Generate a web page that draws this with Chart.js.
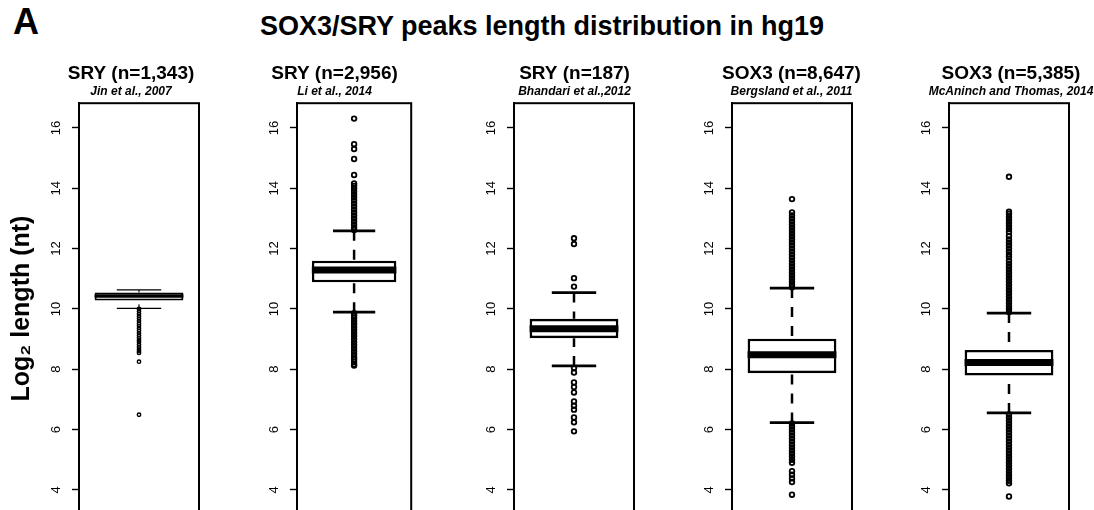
<!DOCTYPE html>
<html>
<head>
<meta charset="utf-8">
<script src="https://cdn.jsdelivr.net/npm/chart.js@4.4.1/dist/chart.umd.min.js"></script>
<style>
    html, body {margin: 0; width: 1094px; height: 510px; overflow: hidden; background: #fff;}
    body {position: relative; font-family: 'Liberation Sans', Arial, sans-serif; color: #000;}
    #letter {position: absolute; left: 13px; top: 4px; font-size: 36px; font-weight: bold; line-height: 1;}
    #heading {position: absolute; left: 542px; top: 13px; transform: translateX(-50%); font-size: 27px; font-weight: bold; line-height: 1; white-space: nowrap;}
    canvas {position: absolute; top: 0;}
</style>
</head>
<body>
<div id="letter">A</div>
<div id="heading">SOX3/SRY peaks length distribution in hg19</div>
<script>
const names = ['SRY (n=1,343)', 'SRY (n=2,956)', 'SRY (n=187)', 'SOX3 (n=8,647)', 'SOX3 (n=5,385)']
const sources = ['Jin et al., 2007', 'Li et al., 2014', 'Bhandari et al.,2012', 'Bergsland et al., 2011', 'McAninch and Thomas, 2014']
const yTicks = [4, 6, 8, 10, 12, 14, 16]

const whiskerLow = [10.02, 9.89, 8.11, 6.23, 6.55]
const q1 = [10.28, 10.88, 9.03, 7.87, 7.79]
const medians = [10.43, 11.29, 9.34, 8.48, 8.22]
const q3 = [10.54, 11.6, 9.67, 9.01, 8.64]
const whiskerHigh = [10.63, 12.59, 10.54, 10.69, 9.86]

const outJin = [10.0, 9.92, 9.84, 9.76, 9.68, 9.6, 9.52, 9.44, 9.36, 9.28, 9.2, 9.12, 9.04, 8.96, 8.9, 8.82,
    8.74, 8.66, 8.6, 8.54, 8.25, 6.49]
const outLi = [12.62, 12.7, 12.8, 12.9, 13.0, 13.1, 13.2, 13.3, 13.4, 13.5, 13.6, 13.7, 13.8, 13.9, 14.0, 14.08,
    14.16, 14.44, 14.97, 15.3, 15.46, 16.31,
    9.86, 9.78, 9.7, 9.6, 9.5, 9.4, 9.3, 9.2, 9.1, 9.0, 8.9, 8.8, 8.7, 8.6, 8.5, 8.4, 8.32, 8.24, 8.16, 8.12]
const outBhandari = [12.34, 12.15, 11.02, 10.74, 8.04, 7.89, 7.56, 7.41, 7.23, 6.93, 6.79, 6.66, 6.4, 6.24, 5.94]
const outBergsland = [10.72, 10.8, 10.9, 11.0, 11.1, 11.2, 11.3, 11.4, 11.5, 11.6, 11.7, 11.8, 11.9, 12.0, 12.1,
    12.2, 12.3, 12.4, 12.5, 12.6, 12.7, 12.8, 12.9, 13.0, 13.1, 13.2, 13.64,
    6.2, 6.1, 6.0, 5.9, 5.8, 5.7, 5.6, 5.5, 5.4, 5.3, 5.2, 5.1, 5.0, 4.9, 4.62, 4.5, 4.38, 4.26, 3.84]
const outMcAninch = [9.9, 10.0, 10.1, 10.2, 10.3, 10.4, 10.5, 10.6, 10.7, 10.8, 10.9, 11.0, 11.1, 11.2, 11.3, 11.4,
    11.5, 11.6, 11.72, 11.8, 11.9, 12.0, 12.1, 12.2, 12.3, 12.42, 12.55, 12.65, 12.75, 12.85, 12.95, 13.05, 13.15,
    13.22, 14.38,
    6.5, 6.4, 6.3, 6.2, 6.1, 6.0, 5.9, 5.8, 5.7, 5.6, 5.5, 5.4, 5.3, 5.2, 5.1, 5.0, 4.9, 4.8, 4.7, 4.6, 4.5, 4.4,
    4.3, 4.22, 3.78]
const outliers = [outJin, outLi, outBhandari, outBergsland, outMcAninch]

// where each panel sits: frame left edge, width of the axis strip on the left, spare strip on the right
const frames = [
    {left: 79, axis: 79, spare: 63},
    {left: 297, axis: 45, spare: 0},
    {left: 514, axis: 45, spare: 46},
    {left: 732, axis: 45, spare: 44},
    {left: 949, axis: 45, spare: 49},
]
const frameWidth = 120
const canvasHeight = 544

const thin = {box: 2, median: 3.5, whisker: 1.1, cap: 1.2, dash: [4, 4], radius: 1.7, ring: 1.4}
const bold = {box: 2.6, median: 7, whisker: 2.5, cap: 2.7, dash: [10, 9], radius: 2.3, ring: 1.8}
const looks = [thin, bold, bold, bold, bold]

Chart.defaults.font.family = "'Liberation Sans', Arial, sans-serif"
Chart.defaults.color = '#000'

const boxPlugin = {
    id: 'boxplot',
    afterDatasetsDraw(chart) {
        const ds = chart.data.datasets[0]
        const s = ds.stats, look = ds.looks
        const bar = chart.getDatasetMeta(0).data[0]
        const y = chart.scales.y
        const ctx = chart.ctx
        const half = bar.width / 2
        ctx.save()
        ctx.strokeStyle = '#000'
        // whiskers run from their end toward the box, dashed like R's lty=2
        ctx.lineWidth = look.whisker
        ctx.setLineDash(look.dash)
        for (const [end, edge] of [[s.low, s.q1], [s.high, s.q3]]) {
            ctx.beginPath()
            ctx.moveTo(bar.x, y.getPixelForValue(end))
            ctx.lineTo(bar.x, y.getPixelForValue(edge))
            ctx.stroke()
        }
        ctx.setLineDash([])
        ctx.lineWidth = look.cap
        for (const end of [s.low, s.high]) {
            const py = y.getPixelForValue(end)
            ctx.beginPath()
            ctx.moveTo(bar.x - half / 2, py)
            ctx.lineTo(bar.x + half / 2, py)
            ctx.stroke()
        }
        ctx.lineWidth = look.median
        const pm = y.getPixelForValue(s.median)
        ctx.beginPath()
        ctx.moveTo(bar.x - half, pm)
        ctx.lineTo(bar.x + half, pm)
        ctx.stroke()
        ctx.restore()
    }
}

const framePlugin = {
    id: 'frame',
    afterDraw(chart) {
        const {ctx, chartArea: a} = chart
        ctx.save()
        ctx.lineWidth = 2
        ctx.strokeStyle = '#000'
        ctx.strokeRect(a.left, a.top, a.width, a.height)
        ctx.restore()
    }
}

function makePanel(i) {
    const f = frames[i]
    const look = looks[i]
    const canvas = document.createElement('canvas')
    canvas.width = f.axis + frameWidth + f.spare
    canvas.height = canvasHeight
    canvas.style.left = (f.left - f.axis) + 'px'
    document.body.appendChild(canvas)

    return new Chart(canvas, {
        type: 'bar',
        data: {
            labels: [names[i]],
            datasets: [
                {
                    type: 'bar',
                    yAxisID: 'y',
                    data: [[q1[i], q3[i]]],
                    stats: {low: whiskerLow[i], q1: q1[i], median: medians[i], q3: q3[i], high: whiskerHigh[i]},
                    looks: look,
                    backgroundColor: '#fff',
                    borderColor: '#000',
                    borderWidth: look.box,
                    borderSkipped: false,
                    barPercentage: 0.74,
                    categoryPercentage: 1,
                    order: 2,
                },
                {
                    type: 'line',
                    yAxisID: 'y',
                    data: outliers[i].map(v => ({x: names[i], y: v})),
                    showLine: false,
                    pointRadius: look.radius,
                    pointBorderWidth: look.ring,
                    pointBackgroundColor: 'rgba(0,0,0,0)',
                    pointBorderColor: '#000',
                    order: 1,
                },
            ]
        },
        options: {
            responsive: false,
            animation: false,
            events: [],
            layout: {padding: {top: 62, bottom: 30, left: 0, right: 0}},
            plugins: {
                legend: {display: false},
                tooltip: {enabled: false},
                title: {
                    display: true, text: names[i], color: '#000',
                    font: {size: 19, weight: 'bold'},
                    padding: {top: 0, bottom: 0},
                },
                subtitle: {
                    display: true, text: sources[i], color: '#000',
                    font: {size: 12, weight: 'bold', style: 'italic'},
                    padding: {top: 0, bottom: 4},
                },
            },
            scales: {
                x: {type: 'category', display: false, offset: true},
                y: {
                    type: 'linear',
                    position: 'left',
                    min: 3.2,
                    max: 16.82,
                    afterBuildTicks: s => { s.ticks = yTicks.map(v => ({value: v})) },
                    afterFit: s => { s.width = f.axis },
                    ticks: {minRotation: 90, maxRotation: 90, crossAlign: 'center', padding: 8, color: '#000', font: {size: 13}},
                    grid: {drawOnChartArea: false, drawTicks: true, tickLength: 7, tickWidth: 1.4, tickColor: '#000'},
                    border: {display: true, color: '#000', width: 2},
                    title: {
                        display: i === 0, text: 'Log₂ length (nt)', color: '#000',
                        font: {size: 25, weight: 'bold'},
                        padding: {top: 7, bottom: 0},
                    },
                },
                yr: {
                    position: 'right',
                    display: true,
                    grid: {display: false},
                    border: {display: false},
                    ticks: {display: false},
                    afterFit: s => { s.width = f.spare },
                },
            }
        },
        plugins: [boxPlugin, framePlugin]
    })
}

names.forEach((n, i) => makePanel(i))
</script>
</body>
</html>
